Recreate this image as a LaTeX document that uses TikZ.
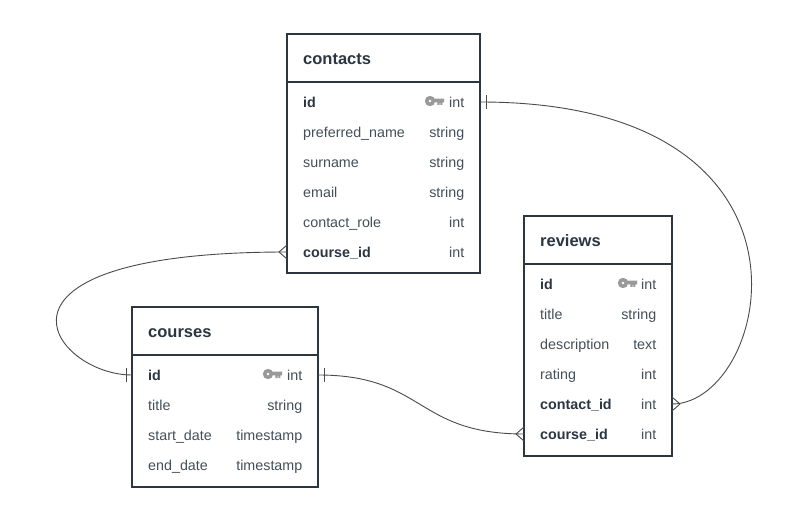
\documentclass[tikz,border=0pt]{standalone}
\usepackage{fontspec}
\setmainfont{Liberation Sans}
\definecolor{ink}{HTML}{2B3640}
\definecolor{rowtxt}{HTML}{444F59}
\definecolor{keyc}{HTML}{999999}
\definecolor{wire}{HTML}{4A4A4A}
\tikzset{
  tbl/.style={draw=ink,line width=2.8pt,fill=white,inner sep=0pt,outer sep=0pt,anchor=north west},
  rule/.style={draw=ink,line width=2.8pt},
  ttl/.style={anchor=base west,inner sep=0pt,text=ink,font=\bfseries\fontsize{16.5}{18}\selectfont},
  fld/.style={anchor=base west,inner sep=0pt,text=rowtxt,font=\fontsize{14.3}{16}\selectfont},
  fldb/.style={anchor=base west,inner sep=0pt,text=ink,font=\bfseries\fontsize{14.3}{16}\selectfont},
  typ/.style={anchor=base east,inner sep=0pt,text=rowtxt,font=\fontsize{14.3}{16}\selectfont},
  wirel/.style={draw=wire,line width=0.9pt},
  keyicon/.pic={
    \fill[keyc,even odd rule] (0,0) circle (5.2) (0,0) circle (1.6);
    \fill[keyc] (3,-2.4) -- (14,-2.4) -- (14,1.4) -- (12.4,1.4) -- (12.4,4) -- (10.4,4) -- (10.4,2) -- (9.6,2) -- (9.6,4) -- (7.4,4) -- (7.4,1.4) -- (3,1.4) -- cycle;
  }
}
\begin{document}
\begin{tikzpicture}[x=1pt,y=-1pt]
\useasboundingbox (0,0) rectangle (807,524);
% tables
\node[tbl,minimum width=193pt,minimum height=239pt] (contacts) at (287,34) {};
\node[tbl,minimum width=186pt,minimum height=180pt] (courses) at (132,307) {};
\node[tbl,minimum width=148pt,minimum height=240pt] (reviews) at (524,216) {};
\coordinate (contactsHl) at (287,82);\coordinate (contactsHr) at (480,82);
\coordinate (coursesHl) at (132,355);\coordinate (coursesHr) at (318,355);
\coordinate (reviewsHl) at (524,264);\coordinate (reviewsHr) at (672,264);
\draw[rule] (contactsHl) -- (contactsHr);
\draw[rule] (coursesHl) -- (coursesHr);
\draw[rule] (reviewsHl) -- (reviewsHr);
% contacts
\node[ttl] (t1) at (303,64.5) {contacts};
\node[fldb] (c1) at (303,107.5) {id};
\node[typ] (c1t) at (464.5,107.5) {int};
\node[fld] (c2) at (303,137.5) {preferred\_name};
\node[typ] (c2t) at (464.5,137.5) {string};
\node[fld] (c3) at (303,167.5) {surname};
\node[typ] (c3t) at (464.5,167.5) {string};
\node[fld] (c4) at (303,197.5) {email};
\node[typ] (c4t) at (464.5,197.5) {string};
\node[fld] (c5) at (303,227.5) {contact\_role};
\node[typ] (c5t) at (464.5,227.5) {int};
\node[fldb] (c6) at (303,257.5) {course\_id};
\node[typ] (c6t) at (464.5,257.5) {int};
\pic at (430,101) {keyicon};
% courses
\node[ttl] (t2) at (148,337.5) {courses};
\node[fldb] (d1) at (148,380.5) {id};
\node[typ] (d1t) at (302.5,380.5) {int};
\node[fld] (d2) at (148,410.5) {title};
\node[typ] (d2t) at (302.5,410.5) {string};
\node[fld] (d3) at (148,440.5) {start\_date};
\node[typ] (d3t) at (302.5,440.5) {timestamp};
\node[fld] (d4) at (148,470.5) {end\_date};
\node[typ] (d4t) at (302.5,470.5) {timestamp};
\pic at (268,374) {keyicon};
% reviews
\node[ttl] (t3) at (540,246.5) {reviews};
\node[fldb] (r1) at (540,289.5) {id};
\node[typ] (r1t) at (656.5,289.5) {int};
\node[fld] (r2) at (540,319.5) {title};
\node[typ] (r2t) at (656.5,319.5) {string};
\node[fld] (r3) at (540,349.5) {description};
\node[typ] (r3t) at (656.5,349.5) {text};
\node[fld] (r4) at (540,379.5) {rating};
\node[typ] (r4t) at (656.5,379.5) {int};
\node[fldb] (r5) at (540,409.5) {contact\_id};
\node[typ] (r5t) at (656.5,409.5) {int};
\node[fldb] (r6) at (540,439.5) {course\_id};
\node[typ] (r6t) at (656.5,439.5) {int};
\pic at (623,283) {keyicon};
% connector ends
\coordinate (pC) at (contacts.north east |- 0,102);
\coordinate (fC) at (contacts.north west |- 0,252);
\coordinate (pD) at (courses.north west |- 0,375);
\coordinate (pDr) at (courses.north east |- 0,375);
\coordinate (fRc) at (reviews.north east |- 0,404);
\coordinate (fRd) at (reviews.north west |- 0,434);
% connectors
\draw[wirel] (pC) .. controls (842,102) and (770,404) .. (fRc);
\draw[wirel] (fC) .. controls (-40,252) and (53,375) .. (pD);
\draw[wirel] (pDr) .. controls (425,375) and (415,434) .. (fRd);
% one marks
\draw[wirel] (pC) ++(6,-7) -- ++(0,14);
\draw[wirel] (pD) ++(-6,-7) -- ++(0,14);
\draw[wirel] (pDr) ++(6,-7) -- ++(0,14);
% crow feet
\draw[wirel] (fC) ++(0,-7) -- ++(-8,7) -- ++(8,7);
\draw[wirel] (fRc) ++(0,-7) -- ++(8,7) -- ++(-8,7);
\draw[wirel] (fRd) ++(0,-7) -- ++(-8,7) -- ++(8,7);
\end{tikzpicture}
\end{document}
